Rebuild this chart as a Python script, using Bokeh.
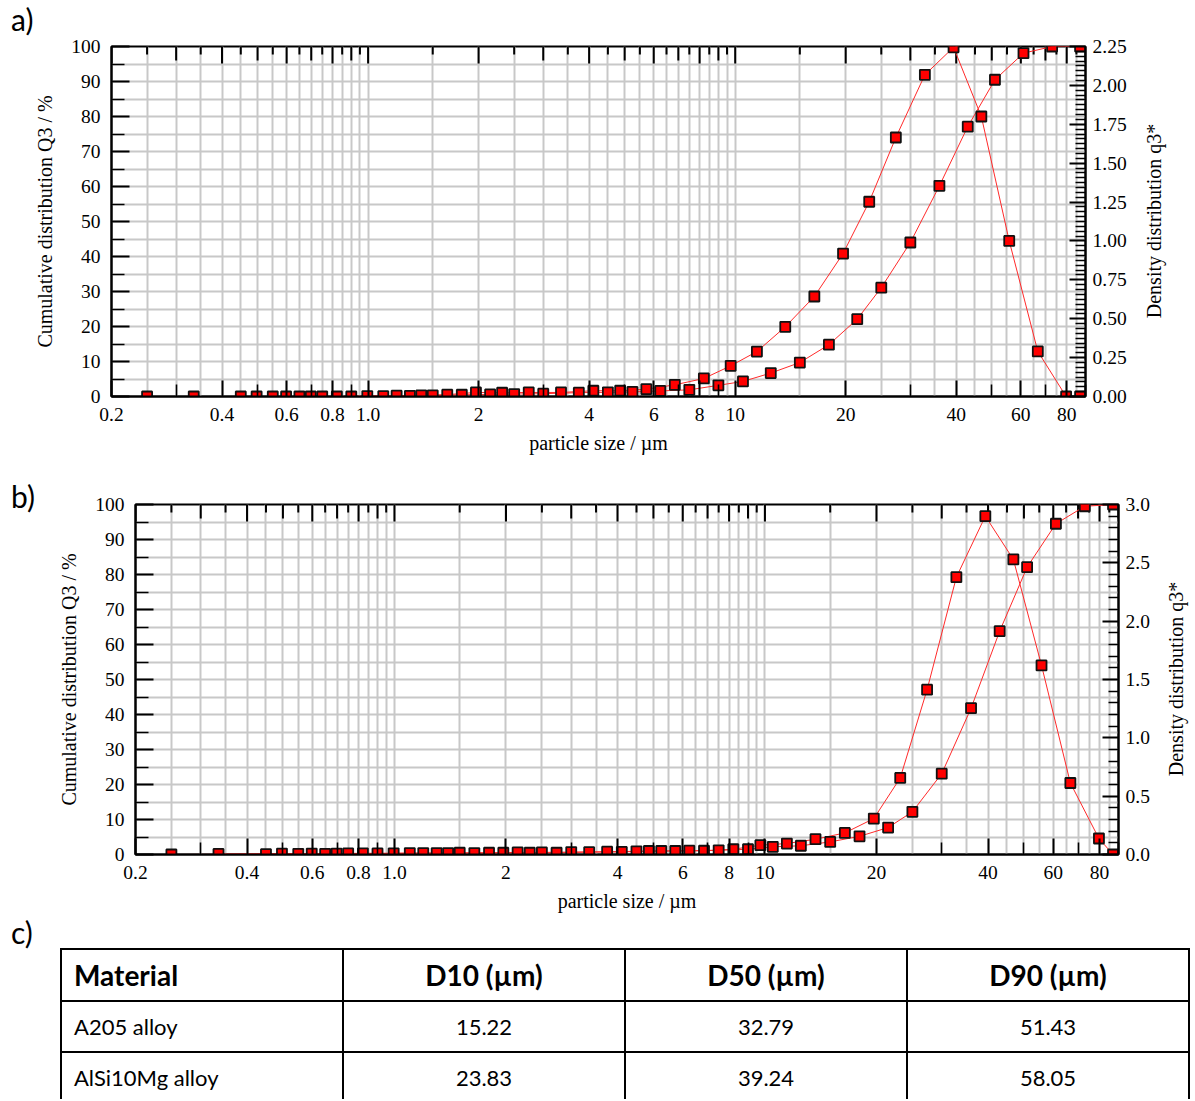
import numpy as np
from bokeh.plotting import figure
from bokeh.models import (Range1d, LinearAxis, FixedTicker, Div, ColumnDataSource,
                          PrintfTickFormatter, BasicTickFormatter)
from bokeh.layouts import row, column
from bokeh.embed import file_html
from bokeh.resources import INLINE

# ---------------- data ----------------
# cumulative points sit at class upper limits, density points at class centres (µm)
size_limits = [0.25, 0.45, 0.55, 0.65, 0.75, 0.90, 1.10, 1.30, 1.50, 1.80, 2.15, 2.50,
               3.00, 3.75, 4.50, 5.25, 6.25, 7.50, 9.00, 10.50, 12.50, 15.00, 18.00,
               21.50, 25.00, 30.00, 36.00, 43.00, 51.00, 61.00, 73.00, 87.00]
size_mids = [0.335, 0.497, 0.598, 0.698, 0.822, 0.995, 1.196, 1.396, 1.643, 1.967, 2.318,
             2.739, 3.354, 4.108, 4.861, 5.728, 6.847, 8.216, 9.721, 11.46, 13.69, 16.43,
             19.67, 23.18, 27.39, 32.86, 39.34, 46.83, 55.78, 66.73, 79.70, 87.00]

# a) A205 alloy
a_cum = [0, 0, 0, 0, 0, 0, 0.1, 0.2, 0.3, 0.5, 0.6, 0.7, 0.8, 1.1, 1.2, 1.3, 1.6, 1.9,
         3.2, 4.3, 6.7, 9.7, 14.8, 22.1, 31.1, 44.0, 60.2, 77.1, 90.5, 98.1, 100, 100]
a_dens = [0, 0, 0, 0, 0, 0.003, 0.005, 0.007, 0.012, 0.026, 0.024, 0.026, 0.026, 0.037,
          0.037, 0.047, 0.075, 0.116, 0.197, 0.289, 0.448, 0.643, 0.919, 1.252, 1.665,
          2.068, 2.245, 1.80, 1.00, 0.29, 0.0, 0.0]

# b) AlSi10Mg alloy
b_cum = [0, 0.1, 0.2, 0.2, 0.3, 0.3, 0.4, 0.4, 0.5, 0.5, 0.6, 0.6, 0.7, 0.8, 0.9, 1.0,
         1.1, 1.2, 1.5, 2.2, 2.5, 3.6, 5.2, 7.7, 12.2, 23.1, 41.8, 63.8, 82.1, 94.5, 99.5, 100]
b_dens = [0.005, 0.008, 0.008, 0.008, 0.01, 0.01, 0.012, 0.012, 0.012, 0.015, 0.015, 0.015,
          0.02, 0.022, 0.03, 0.03, 0.032, 0.045, 0.08, 0.094, 0.131, 0.185, 0.308, 0.656,
          1.413, 2.377, 2.90, 2.529, 1.621, 0.613, 0.137, 0.0]

x_label_ticks = [0.2, 0.4, 0.6, 0.8, 1, 2, 4, 6, 8, 10, 20, 40, 60, 80]
x_label_text = ["0.2", "0.4", "0.6", "0.8", "1.0", "2", "4", "6", "8", "10", "20", "40", "60", "80"]

table_headers = ["Material", "D10 (µm)", "D50 (µm)", "D90 (µm)"]
materials = ["A205 alloy", "AlSi10Mg alloy"]
d10 = ["15.22", "23.83"]
d50 = ["32.79", "39.24"]
d90 = ["51.43", "58.05"]

# ---------------- helpers ----------------
SERIF = "Liberation Serif"
SANS = "Lato"
GRID = "#c8c8c8"
LINE = "#ff2a2a"
FRAME_H = 350


def decade_ticks(step):
    out = []
    for dec in (0.1, 1.0, 10.0):
        for m in np.arange(1.0, 10.0, step):
            v = round(float(m) * dec, 6)
            if 0.2 - 1e-9 <= v <= 90 + 1e-9 and v not in out:
                out.append(v)
    return out


all_grid = decade_ticks(0.5)
int_ticks = decade_ticks(1.0)
label_set = [float(v) for v in x_label_ticks]
bottom_minor = [t for t in int_ticks if t not in label_set]
top_len = [17 if t in label_set else (14 if t in int_ticks else 8) for t in all_grid]


def style(ax):
    ax.axis_line_color = "black"
    ax.axis_line_width = 2
    ax.major_tick_line_color = "black"
    ax.minor_tick_line_color = "black"
    ax.major_tick_line_width = 2
    ax.minor_tick_line_width = 1.6
    ax.major_tick_out = 0
    ax.minor_tick_out = 0
    ax.major_label_text_font = SERIF
    ax.major_label_text_font_size = "19.5px"
    ax.major_label_text_color = "black"
    ax.axis_label_text_font = SERIF
    ax.axis_label_text_font_size = "20px"
    ax.axis_label_text_font_style = "normal"
    ax.axis_label_text_color = "black"


def make_chart(cum, dens, dens_max, dens_major, dens_minor, dens_fmt,
               b_left, b_right, b_top, b_bottom, frame_w):
    p = figure(x_axis_type="log", x_range=Range1d(0.2, 90), y_range=Range1d(0, 100),
               frame_width=frame_w, frame_height=FRAME_H,
               min_border_left=b_left, min_border_right=b_right,
               min_border_top=b_top, min_border_bottom=b_bottom,
               output_backend="svg", toolbar_location=None)
    p.extra_y_ranges = {"dens": Range1d(0, dens_max), "px": Range1d(0, FRAME_H)}
    p.background_fill_color = "white"
    p.border_fill_color = "white"
    p.outline_line_color = "black"
    p.outline_line_width = 2

    p.xgrid.ticker = FixedTicker(ticks=all_grid)
    p.ygrid.ticker = FixedTicker(ticks=list(range(0, 101, 5)))
    for g in (p.xgrid[0], p.ygrid[0]):
        g.grid_line_color = GRID
        g.grid_line_width = 2

    xa = p.xaxis[0]
    style(xa)
    xa.ticker = FixedTicker(ticks=label_set, minor_ticks=bottom_minor)
    xa.formatter = BasicTickFormatter()
    xa.major_label_overrides = {v: s for v, s in zip(x_label_ticks, x_label_text)}
    xa.major_tick_in = 16
    xa.minor_tick_in = 12
    xa.major_label_standoff = 11
    xa.axis_label = "particle size / µm"
    xa.axis_label_standoff = 8

    ya = p.yaxis[0]
    style(ya)
    ya.ticker = FixedTicker(ticks=list(range(0, 101, 10)), minor_ticks=list(range(5, 100, 10)))
    ya.major_tick_in = 18
    ya.minor_tick_in = 13
    ya.major_label_standoff = 11
    ya.axis_label = "Cumulative distribution Q3 / %"
    ya.axis_label_standoff = 12

    ra = LinearAxis(y_range_name="dens",
                    ticker=FixedTicker(ticks=dens_major, minor_ticks=dens_minor),
                    formatter=PrintfTickFormatter(format=dens_fmt))
    style(ra)
    ra.major_tick_in = 16
    ra.minor_tick_in = 10
    ra.major_label_standoff = 7
    p.add_layout(ra, "right")

    # inward ticks along the top edge (three lengths, as in the reference)
    src_t = ColumnDataSource(dict(x=all_grid, y0=[FRAME_H] * len(all_grid),
                                  y1=[FRAME_H - L for L in top_len]))
    p.segment(x0="x", y0="y0", x1="x", y1="y1", source=src_t, y_range_name="px",
              line_color="black", line_width=2)

    src_c = ColumnDataSource(dict(x=size_limits, y=cum))
    src_d = ColumnDataSource(dict(x=size_mids, y=dens))
    p.line("x", "y", source=src_c, line_color=LINE, line_width=1)
    p.line("x", "y", source=src_d, line_color=LINE, line_width=1, y_range_name="dens")
    p.scatter("x", "y", source=src_c, marker="square", size=10, fill_color="#ff0000",
              line_color="#111111", line_width=1.8)
    p.scatter("x", "y", source=src_d, marker="square", size=10, fill_color="#ff0000",
              line_color="#111111", line_width=1.8, y_range_name="dens")
    return p


def letter_div(letter, w, h, top):
    html = (f'<div style="position:relative;width:{w}px;height:{h}px;">'
            f'<div style="position:absolute;left:11px;top:{top}px;font-family:{SANS};'
            f'font-size:30px;line-height:32px;color:black;white-space:nowrap;">{letter}</div></div>')
    return Div(text=html, width=w, height=h, margin=(0, 0, 0, 0))


def right_label_div(w, h, cx, cy):
    html = (f'<div style="position:relative;width:{w}px;height:{h}px;">'
            f'<div style="position:absolute;left:{cx}px;top:{cy}px;'
            f'transform:translate(-50%,-50%) rotate(-90deg);white-space:nowrap;'
            f'font-family:\'{SERIF}\';font-size:20px;line-height:22px;color:black;">'
            f'Density distribution q3*</div></div>')
    return Div(text=html, width=w, height=h, margin=(0, 0, 0, 0))


a_major = [round(0.25 * k, 4) for k in range(10)]
a_minor = [round(0.03125 * k, 6) for k in range(73) if k % 8 != 0]
b_major = [round(0.5 * k, 4) for k in range(7)]
b_minor = [round(0.1 * k, 4) for k in range(31) if k % 5 != 0]

# chart a): letter strip (y 0-35) above; figure 0-1135 (frame x 111-1085, y 46-396); label 1135-1185
pa = make_chart(a_cum, a_dens, 2.25, a_major, a_minor, "%.2f",
                b_left=111, b_right=50, b_top=11, b_bottom=74, frame_w=974)
root_a = column(letter_div("a)", 1190, 35, 3),
                row(pa, right_label_div(50, 435, 19, 186), spacing=0), spacing=0)

# chart b): letter 0-42, figure 42-1158 (frame x 135-1118, y 504-854), label 1158-1189
pb = make_chart(b_cum, b_dens, 3.0, b_major, b_minor, "%.1f",
                b_left=93, b_right=40, b_top=34, b_bottom=61, frame_w=983)
root_b = row(letter_div("b)", 42, 445, 10), pb, right_label_div(31, 445, 18, 209), spacing=0)

# ---------------- table c) ----------------
cell = "border:2px solid black;vertical-align:middle;overflow:hidden;white-space:nowrap;"
hdr = ""
for i, h in enumerate(table_headers):
    align = "left;padding-left:12px" if i == 0 else "center"
    hdr += (f'<th style="{cell}width:282px;text-align:{align};font-size:28px;'
            f'font-weight:bold;">{h}</th>')
body = ""
for m, a, b, c in zip(materials, d10, d50, d90):
    body += '<tr style="height:51px;">'
    body += f'<td style="{cell}text-align:left;padding-left:12px;font-size:22px;">{m}</td>'
    for v in (a, b, c):
        body += f'<td style="{cell}text-align:center;font-size:22px;">{v}</td>'
    body += '</tr>'

html = (
    '<div style="position:relative;width:1190px;height:184px;overflow:hidden;background:white;">'
    f'<div style="position:absolute;left:11px;top:1px;font-family:{SANS};font-size:30px;'
    f'line-height:32px;color:black;">c)</div>'
    f'<table style="position:absolute;left:60px;top:33px;border-collapse:collapse;'
    f'table-layout:fixed;width:1128px;font-family:{SANS};color:black;">'
    f'<tr style="height:52px;">{hdr}</tr>{body}</table></div>'
)
table_div = Div(text=html, width=1190, height=184, margin=(0, 0, 0, 0))

open("out.html", "w").write(file_html([root_a, root_b, table_div], INLINE))
